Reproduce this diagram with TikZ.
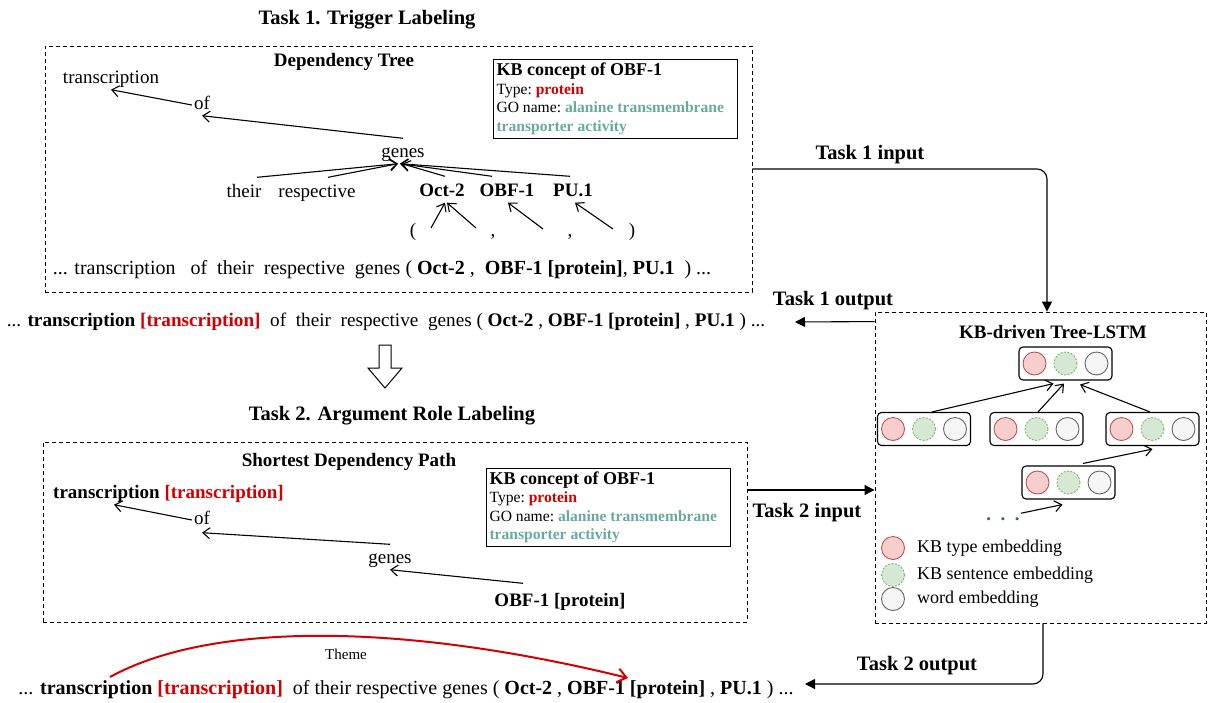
\documentclass[tikz,border=0pt]{standalone}
\usepackage{fontspec}
\setmainfont{Liberation Serif}
\usetikzlibrary{arrows.meta,positioning}

\definecolor{typered}{RGB}{210,0,0}
\definecolor{goteal}{RGB}{104,170,158}
\definecolor{dotteal}{RGB}{45,105,100}
\definecolor{typefill}{HTML}{F8CECC}
\definecolor{typeline}{HTML}{B85450}
\definecolor{sentfill}{HTML}{D5E8D4}
\definecolor{sentline}{HTML}{82B366}
\definecolor{wordfill}{HTML}{F5F5F5}
\definecolor{wordline}{HTML}{666666}

\newcommand{\kbtype}[1]{\textcolor{typered}{\textbf{#1}}}
\newcommand{\goname}[1]{\textcolor{goteal}{\textbf{#1}}}

\begin{document}
\begin{tikzpicture}[x=1pt,y=-1pt,
    word/.style={inner sep=2pt,text height=13pt,text depth=4pt,font=\fontsize{19}{22}\selectfont},
    bword/.style={word,font=\fontsize{19}{22}\selectfont\bfseries},
    sentence/.style={word,font=\fontsize{20}{22}\selectfont},
    tasktitle/.style={inner sep=2pt,font=\fontsize{20.5}{24}\selectfont\bfseries},
    boxtitle/.style={inner sep=2pt,font=\fontsize{19}{22}\selectfont\bfseries},
    dashbox/.style={draw,dash pattern=on 4pt off 3pt,line width=0.9pt,inner sep=0pt},
    kbbox/.style={draw,line width=1.1pt,inner sep=3pt,text width=238pt,align=flush left,
      anchor=north west,font=\fontsize{15.6}{18.5}\selectfont\frenchspacing},
    dep/.style={line width=1.1pt,-{Straight Barb[length=7pt,width=11pt]}},
    flow/.style={line width=1.1pt,rounded corners=10pt,-{Triangle[length=10pt,width=10pt]}},
    cell/.style={draw,line width=1.1pt,rounded corners=4pt,minimum width=93pt,minimum height=33pt,inner sep=0pt},
    embdot/.style={circle,line width=0.9pt,minimum size=23pt,inner sep=0pt},
    typedot/.style={embdot,draw=typeline,fill=typefill},
    sentdot/.style={embdot,draw=sentline,fill=sentfill,dash pattern=on 2pt off 1.5pt},
    worddot/.style={embdot,draw=wordline,fill=wordfill},
    legend/.style={inner sep=2pt,anchor=west,font=\fontsize{18}{20}\selectfont},
  ]
  \useasboundingbox (0,0) rectangle (1208,702);

  % Task 1: trigger labeling on the dependency tree
  \node[tasktitle] (title1) at (367,20) {Task 1. Trigger Labeling};
  \node[dashbox,minimum width=707pt,minimum height=246pt] (tree1) at (398.5,169) {};
  \node[boxtitle] (deptree) at (344,62) {Dependency Tree};

  \node[kbbox,minimum height=79pt] (kb1) at (493,59)
    {{\fontsize{18}{18.5}\selectfont\bfseries KB concept of OBF-1}\\
     Type: \kbtype{protein}\\
     GO name: \goname{alanine transmembrane}\\
     \goname{transporter activity}};

  \node[word] (tr) at (111,79) {transcription};
  \node[word] (of) at (202,105) {of};
  \node[word] (genes) at (403,153) {genes};
  \node[word] (their) at (244,193) {their};
  \node[word] (resp) at (317,193) {respective};
  \node[bword] (oct) at (442,192) {Oct-2};
  \node[bword] (obf) at (507,192) {OBF-1};
  \node[bword] (pu) at (573,192) {PU.1};
  \node[word] (lp) at (413,232) {(};
  \node[word] (c1) at (493,232) {,};
  \node[word] (c2) at (570,232) {,};
  \node[word] (rp) at (632,232) {)};

  % Draw dependency arcs
  \draw[dep] (of.west) -- (tr.south);
  \draw[dep] ([yshift=4pt]genes.north) -- (of.south);
  \draw[dep] ([xshift=13pt,yshift=5pt]their.north) -- ([xshift=-5pt]genes.south);
  \draw[dep] ([xshift=11pt,yshift=5pt]resp.north) -- ([xshift=-5pt]genes.south);
  \draw[dep] ([xshift=3pt,yshift=5pt]oct.north) -- ([xshift=-1pt]genes.south);
  \draw[dep] ([xshift=-15pt,yshift=5pt]obf.north) -- ([xshift=-3pt]genes.south);
  \draw[dep] ([xshift=-3pt,yshift=5pt]pu.north) -- ([xshift=-3pt]genes.south);
  \draw[dep] ([xshift=18pt,yshift=4pt]lp.center) -- ([xshift=3pt]oct.south);
  \draw[dep] ([xshift=-17pt,yshift=4pt]c1.center) -- ([xshift=5pt]oct.south);
  \draw[dep] ([xshift=-27pt,yshift=3pt]c2.center) -- ([xshift=1pt]obf.south);
  \draw[dep] ([xshift=-19pt,yshift=3pt]rp.center) -- ([xshift=2pt]pu.south);

  \node[sentence] (sent1) at (382,270)
    {... transcription \ \ of \ their \ respective \ genes ( \textbf{Oct-2} , \ \textbf{OBF-1 [protein]}, \textbf{PU.1} \ ) ...};

  % Output of task 1
  \node[word,font=\fontsize{19.2}{22}\selectfont] (out1) at (386,322)
    {... \textbf{transcription} \kbtype{[transcription]} \ of \ their \ respective \ genes ( \textbf{Oct-2} , \textbf{OBF-1 [protein]} , \textbf{PU.1} ) ...};

  \draw[line width=1pt] (379,345) -- (391,345) -- (391,368) -- (402,368) -- (385,388)
    -- (368,368) -- (379,368) -- cycle;

  % Task 2: argument role labeling on the shortest path
  \node[tasktitle] (title2) at (392,416) {Task 2. Argument Role Labeling};
  \node[dashbox,minimum width=704pt,minimum height=180pt] (tree2) at (395,532) {};
  \node[boxtitle] (sdp) at (349,462) {Shortest Dependency Path};

  \node[kbbox,minimum height=78pt] (kb2) at (486,468)
    {{\fontsize{18}{18.5}\selectfont\bfseries KB concept of OBF-1}\\
     Type: \kbtype{protein}\\
     GO name: \goname{alanine transmembrane}\\
     \goname{transporter activity}};

  \node[bword,anchor=west] (tr2) at (51,494) {transcription \textcolor{typered}{[transcription]}};
  \node[word] (of2) at (202,520) {of};
  \node[word] (genes2) at (390,559) {genes};
  \node[bword] (obf2) at (560,602) {OBF-1 [protein]};

  \draw[dep] (of2.west) -- ([xshift=63pt]tr2.south west);
  \draw[dep] ([yshift=4pt]genes2.north) -- ([yshift=-2pt]of2.south);
  \draw[dep] ([xshift=-37pt,yshift=8pt]obf2.north) -- (genes2.south);

  % KB-driven Tree-LSTM
  \node[dashbox,minimum width=331pt,minimum height=311pt] (lstm) at (1040.5,467.5) {};
  \node[boxtitle] (lstmtitle) at (1053,332) {KB-driven Tree-LSTM};

  \foreach \c/\x/\y in {ctop/1065.5/363.5,cleft/924/429,cmid/1036.5/429,cright/1152.5/429,cbot/1068.5/482.5} {
    \node[cell] (\c) at (\x,\y) {};
    \node[typedot] (\c-t) at ([xshift=-31pt]\c.center) {};
    \node[sentdot] (\c-s) at (\c.center) {};
    \node[worddot] (\c-w) at ([xshift=31pt]\c.center) {};
  }
  \node[inner sep=1pt,text=dotteal,font=\fontsize{19}{22}\selectfont\bfseries] (dots) at (1003,519) {.\ \ .\ \ .};

  \draw[dep] ([xshift=8pt]cleft.north) -- ([xshift=-12pt,yshift=-3pt]ctop.south);
  \draw[dep] ([xshift=1.5pt]cmid.north) -- ([xshift=-1.5pt,yshift=-3pt]ctop.south);
  \draw[dep] ([xshift=-2.5pt]cright.north) -- ([xshift=14.5pt,yshift=-4pt]ctop.south);
  \draw[dep] ([xshift=14.5pt,yshift=2pt]cbot.north) -- ([yshift=-3pt]cright.south);
  \draw[dep] ([yshift=3pt]dots.north east) -- ([xshift=-6pt,yshift=-5pt]cbot.south);

  % Legend
  \node[typedot] (lgtype) at (893,548) {};
  \node[legend] (lgtypetext) at (915,548) {KB type embedding};
  \node[sentdot] (lgsent) at (893,575) {};
  \node[legend] (lgsenttext) at (915,575) {KB sentence embedding};
  \node[worddot] (lgword) at (893,599) {};
  \node[legend] (lgwordtext) at (915,599) {word embedding};

  % Task inputs and outputs
  \node[tasktitle] (in1lab) at (870,155) {Task 1 input};
  \draw[flow] (tree1.east) -| ([xshift=6.5pt]lstm.north);

  \node[tasktitle] (out1lab) at (833,301) {Task 1 output};
  \coordinate (out1tip) at (795,322);
  \draw[flow] ([yshift=-10pt]lstm.north west) -- (out1tip);

  \node[tasktitle] (in2lab) at (807,513) {Task 2 input};
  \coordinate (in2from) at ([yshift=42pt]tree2.east);
  \draw[flow] (in2from) -- (in2from -| lstm.west);

  \node[tasktitle] (out2lab) at (917,666) {Task 2 output};
  \coordinate (out2tip) at (805,684);
  \draw[flow] ([xshift=2.5pt]lstm.south) |- (out2tip);

  % Output of task 2
  \node[sentence] (out2) at (406,690)
    {... \textbf{transcription} \kbtype{[transcription]} \ of their respective genes ( \textbf{Oct-2} , \textbf{OBF-1 [protein]} , \textbf{PU.1} ) ...};

  \coordinate (themefrom) at (110,677);
  \coordinate (themeto) at (628,678);
  \draw[typered,line width=2pt,-{Straight Barb[length=9pt,width=14pt]}]
    (themefrom) .. controls (210,622) and (400,622) .. (themeto);
  \node[inner sep=1pt,font=\fontsize{15}{16}\selectfont] (theme) at (346,654) {Theme};
\end{tikzpicture}
\end{document}
